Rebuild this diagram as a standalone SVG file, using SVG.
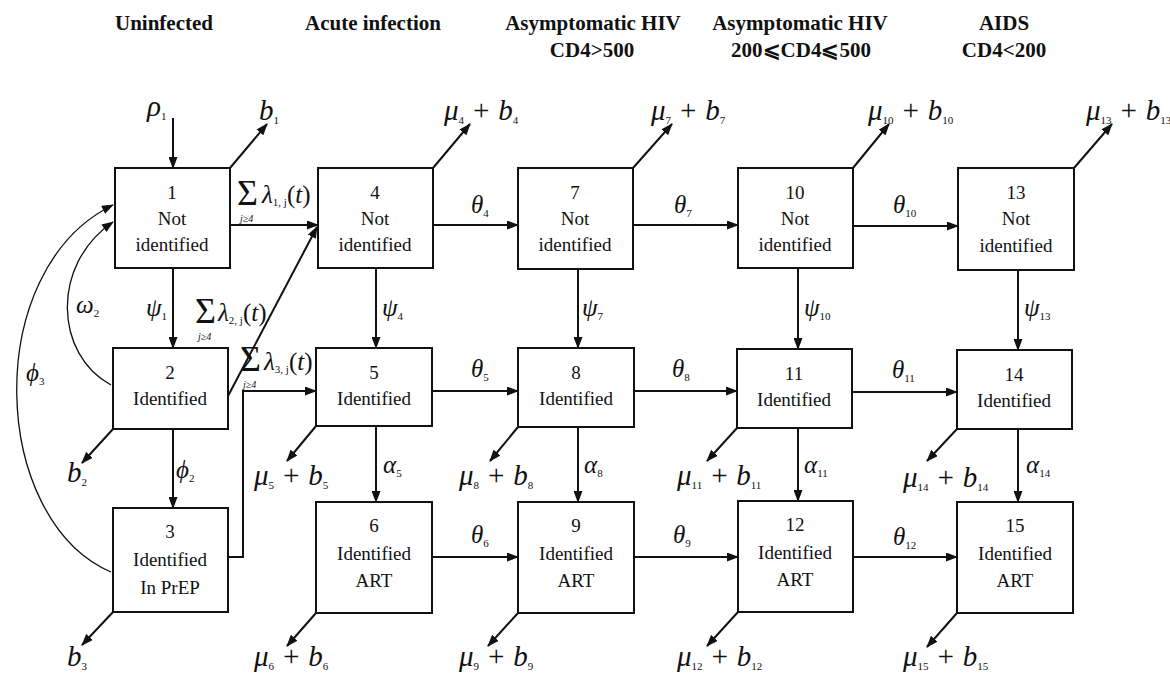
<svg xmlns="http://www.w3.org/2000/svg" width="1170" height="676" viewBox="0 0 1170 676">
<style>
.hdr{font-family:"Liberation Serif",serif;font-weight:bold;font-size:21px;text-anchor:middle;fill:#111}
.nt{font-family:"Liberation Serif",serif;font-size:19px;text-anchor:middle;fill:#111}
.m{font-family:"Liberation Serif",serif;font-style:italic;font-size:29px;fill:#111}
.g{font-family:"Liberation Serif",serif;font-style:italic;font-size:25px;fill:#111}
.s{font-style:normal;font-size:11px}
.sig{font-family:"Liberation Serif",serif;font-size:36px;fill:#111}
.j{font-family:"Liberation Serif",serif;font-style:italic;font-size:10px;fill:#111}
.box{fill:#fff;stroke:#111;stroke-width:2}
.a{fill:none;stroke:#111;stroke-width:2;marker-end:url(#ah)}
.c{fill:none;stroke:#111;stroke-width:1.3;marker-end:url(#ah)}
</style>
<defs>
<marker id="ah" viewBox="0 0 12 9" refX="11" refY="4.5" markerWidth="12" markerHeight="9" markerUnits="userSpaceOnUse" orient="auto"><path d="M0,0 L12,4.5 L0,9 Z" fill="#111"/></marker>
</defs>
<rect width="1170" height="676" fill="#fff"/>

<g id="headers">
<text class="hdr" x="164" y="30">Uninfected</text>
<text class="hdr" x="373" y="30">Acute infection</text>
<text class="hdr" x="593" y="30">Asymptomatic HIV</text>
<text class="hdr" x="592" y="57">CD4&gt;500</text>
<text class="hdr" x="800" y="30">Asymptomatic HIV</text>
<text class="hdr" x="801" y="57">200⩽CD4⩽500</text>
<text class="hdr" x="1004" y="30">AIDS</text>
<text class="hdr" x="1004" y="57">CD4&lt;200</text>
</g>

<g id="connectors">
<line class="a" x1="173" y1="118" x2="173" y2="168"/>
<line class="a" x1="230" y1="168" x2="267" y2="124"/>
<line class="a" x1="433" y1="168" x2="470" y2="124"/>
<line class="a" x1="633" y1="168" x2="672" y2="124"/>
<line class="a" x1="853" y1="168" x2="889" y2="124"/>
<line class="a" x1="1074" y1="168" x2="1112" y2="124"/>
<line class="a" x1="230" y1="225" x2="318" y2="225"/>
<line class="a" x1="433" y1="225" x2="518" y2="225"/>
<line class="a" x1="633" y1="225" x2="738" y2="225"/>
<line class="a" x1="853" y1="226" x2="958" y2="226"/>
<line class="a" x1="432" y1="391" x2="518" y2="391"/>
<line class="a" x1="634" y1="391" x2="737" y2="391"/>
<line class="a" x1="852" y1="392" x2="957" y2="392"/>
<line class="a" x1="432" y1="557" x2="518" y2="557"/>
<line class="a" x1="634" y1="557" x2="738" y2="557"/>
<line class="a" x1="853" y1="557" x2="957" y2="557"/>
<line class="a" x1="173" y1="268" x2="173" y2="348"/>
<line class="a" x1="173" y1="429" x2="173" y2="508"/>
<line class="a" x1="376" y1="268" x2="376" y2="348"/>
<line class="a" x1="376" y1="426" x2="376" y2="502"/>
<line class="a" x1="578" y1="269" x2="578" y2="348"/>
<line class="a" x1="578" y1="427" x2="578" y2="502"/>
<line class="a" x1="798" y1="268" x2="798" y2="349"/>
<line class="a" x1="798" y1="428" x2="798" y2="501"/>
<line class="a" x1="1018" y1="270" x2="1018" y2="350"/>
<line class="a" x1="1018" y1="429" x2="1018" y2="502"/>
<line class="a" x1="113" y1="429" x2="82" y2="463"/>
<line class="a" x1="113" y1="612" x2="82" y2="645"/>
<line class="a" x1="316" y1="426" x2="287" y2="461"/>
<line class="a" x1="316" y1="613" x2="287" y2="646"/>
<line class="a" x1="518" y1="427" x2="490" y2="461"/>
<line class="a" x1="518" y1="613" x2="488" y2="646"/>
<line class="a" x1="737" y1="428" x2="707" y2="461"/>
<line class="a" x1="738" y1="612" x2="707" y2="646"/>
<line class="a" x1="957" y1="429" x2="927" y2="461"/>
<line class="a" x1="957" y1="613" x2="927" y2="647"/>
<line class="a" x1="228" y1="396" x2="317" y2="227"/>
<path class="a" d="M228,557 H243 V391 H316"/>
<path class="c" d="M111,385 C55,355 50,265 113,222"/>
<path class="c" d="M111,572 C-10,520 -20,270 113,205"/>
</g>

<g id="n1"><rect class="box" x="115" y="168" width="115" height="100"/><text class="nt" x="172" y="199">1</text><text class="nt" x="172" y="225">Not</text><text class="nt" x="172" y="251">identified</text></g>
<g id="n4"><rect class="box" x="318" y="168" width="115" height="100"/><text class="nt" x="375" y="199">4</text><text class="nt" x="375" y="225">Not</text><text class="nt" x="375" y="251">identified</text></g>
<g id="n7"><rect class="box" x="518" y="168" width="115" height="101"/><text class="nt" x="575" y="199">7</text><text class="nt" x="575" y="225">Not</text><text class="nt" x="575" y="251">identified</text></g>
<g id="n10"><rect class="box" x="738" y="168" width="115" height="100"/><text class="nt" x="795" y="199">10</text><text class="nt" x="795" y="225">Not</text><text class="nt" x="795" y="251">identified</text></g>
<g id="n13"><rect class="box" x="958" y="168" width="116" height="102"/><text class="nt" x="1016" y="199">13</text><text class="nt" x="1016" y="225">Not</text><text class="nt" x="1016" y="252">identified</text></g>

<g id="n2"><rect class="box" x="113" y="348" width="115" height="81"/><text class="nt" x="170" y="379">2</text><text class="nt" x="170" y="405">Identified</text></g>
<g id="n5"><rect class="box" x="316" y="348" width="116" height="78"/><text class="nt" x="374" y="379">5</text><text class="nt" x="374" y="405">Identified</text></g>
<g id="n8"><rect class="box" x="518" y="348" width="116" height="79"/><text class="nt" x="576" y="379">8</text><text class="nt" x="576" y="405">Identified</text></g>
<g id="n11"><rect class="box" x="737" y="349" width="115" height="79"/><text class="nt" x="794" y="380">11</text><text class="nt" x="794" y="406">Identified</text></g>
<g id="n14"><rect class="box" x="957" y="350" width="115" height="79"/><text class="nt" x="1014" y="381">14</text><text class="nt" x="1014" y="407">Identified</text></g>

<g id="n3"><rect class="box" x="113" y="508" width="115" height="104"/><text class="nt" x="170" y="538">3</text><text class="nt" x="170" y="566">Identified</text><text class="nt" x="170" y="594">In PrEP</text></g>
<g id="n6"><rect class="box" x="316" y="502" width="116" height="111"/><text class="nt" x="374" y="532">6</text><text class="nt" x="374" y="560">Identified</text><text class="nt" x="374" y="587">ART</text></g>
<g id="n9"><rect class="box" x="518" y="502" width="116" height="111"/><text class="nt" x="576" y="532">9</text><text class="nt" x="576" y="560">Identified</text><text class="nt" x="576" y="587">ART</text></g>
<g id="n12"><rect class="box" x="738" y="501" width="115" height="111"/><text class="nt" x="795" y="531">12</text><text class="nt" x="795" y="559">Identified</text><text class="nt" x="795" y="586">ART</text></g>
<g id="n15"><rect class="box" x="957" y="502" width="116" height="111"/><text class="nt" x="1015" y="532">15</text><text class="nt" x="1015" y="560">Identified</text><text class="nt" x="1015" y="587">ART</text></g>

<g id="labels">
<text class="m" x="147" y="116">ρ<tspan class="s" dy="4">1</tspan></text>
<text class="m" x="259" y="120">b<tspan class="s" dy="4">1</tspan></text>
<text class="m" x="444" y="120">μ<tspan class="s" dy="4">4</tspan><tspan dy="-4"> + b</tspan><tspan class="s" dy="4">4</tspan></text>
<text class="m" x="651" y="120">μ<tspan class="s" dy="4">7</tspan><tspan dy="-4"> + b</tspan><tspan class="s" dy="4">7</tspan></text>
<text class="m" x="868" y="120">μ<tspan class="s" dy="4">10</tspan><tspan dy="-4"> + b</tspan><tspan class="s" dy="4">10</tspan></text>
<text class="m" x="1086" y="120">μ<tspan class="s" dy="4">13</tspan><tspan dy="-4"> + b</tspan><tspan class="s" dy="4">13</tspan></text>

<text class="m" x="67" y="482">b<tspan class="s" dy="4">2</tspan></text>
<text class="m" x="254" y="485">μ<tspan class="s" dy="4">5</tspan><tspan dy="-4"> + b</tspan><tspan class="s" dy="4">5</tspan></text>
<text class="m" x="459" y="485">μ<tspan class="s" dy="4">8</tspan><tspan dy="-4"> + b</tspan><tspan class="s" dy="4">8</tspan></text>
<text class="m" x="677" y="485">μ<tspan class="s" dy="4">11</tspan><tspan dy="-4"> + b</tspan><tspan class="s" dy="4">11</tspan></text>
<text class="m" x="903" y="487">μ<tspan class="s" dy="4">14</tspan><tspan dy="-4"> + b</tspan><tspan class="s" dy="4">14</tspan></text>

<text class="m" x="67" y="666">b<tspan class="s" dy="4">3</tspan></text>
<text class="m" x="254" y="666">μ<tspan class="s" dy="4">6</tspan><tspan dy="-4"> + b</tspan><tspan class="s" dy="4">6</tspan></text>
<text class="m" x="459" y="666">μ<tspan class="s" dy="4">9</tspan><tspan dy="-4"> + b</tspan><tspan class="s" dy="4">9</tspan></text>
<text class="m" x="677" y="666">μ<tspan class="s" dy="4">12</tspan><tspan dy="-4"> + b</tspan><tspan class="s" dy="4">12</tspan></text>
<text class="m" x="903" y="666">μ<tspan class="s" dy="4">15</tspan><tspan dy="-4"> + b</tspan><tspan class="s" dy="4">15</tspan></text>

<text class="g" x="471" y="213">θ<tspan class="s" dy="4">4</tspan></text>
<text class="g" x="674" y="213">θ<tspan class="s" dy="4">7</tspan></text>
<text class="g" x="893" y="213">θ<tspan class="s" dy="4">10</tspan></text>
<text class="g" x="471" y="377">θ<tspan class="s" dy="4">5</tspan></text>
<text class="g" x="672" y="377">θ<tspan class="s" dy="4">8</tspan></text>
<text class="g" x="892" y="378">θ<tspan class="s" dy="4">11</tspan></text>
<text class="g" x="471" y="543">θ<tspan class="s" dy="4">6</tspan></text>
<text class="g" x="673" y="543">θ<tspan class="s" dy="4">9</tspan></text>
<text class="g" x="893" y="545">θ<tspan class="s" dy="4">12</tspan></text>
<text class="g" x="146" y="316">ψ<tspan class="s" dy="4">1</tspan></text>
<text class="g" x="382" y="316">ψ<tspan class="s" dy="4">4</tspan></text>
<text class="g" x="582" y="316">ψ<tspan class="s" dy="4">7</tspan></text>
<text class="g" x="804" y="316">ψ<tspan class="s" dy="4">10</tspan></text>
<text class="g" x="1024" y="316">ψ<tspan class="s" dy="4">13</tspan></text>
<text class="g" x="383" y="473">α<tspan class="s" dy="4">5</tspan></text>
<text class="g" x="584" y="473">α<tspan class="s" dy="4">8</tspan></text>
<text class="g" x="804" y="473">α<tspan class="s" dy="4">11</tspan></text>
<text class="g" x="1026" y="473">α<tspan class="s" dy="4">14</tspan></text>
<text class="g" x="176" y="478">ϕ<tspan class="s" dy="4">2</tspan></text>
<text class="g" x="76" y="313">ω<tspan class="s" dy="4">2</tspan></text>
<text class="g" x="26" y="381">ϕ<tspan class="s" dy="4">3</tspan></text>

<text class="sig" x="237" y="205">Σ</text>
<text class="g" x="262" y="203">λ<tspan class="s" dy="3">1, j</tspan><tspan dy="-3" font-style="normal">(</tspan>t<tspan font-style="normal">)</tspan></text>
<text class="j" x="240" y="222">j≥4</text>
<text class="sig" x="195" y="323">Σ</text>
<text class="g" x="218" y="321">λ<tspan class="s" dy="3">2, j</tspan><tspan dy="-3" font-style="normal">(</tspan>t<tspan font-style="normal">)</tspan></text>
<text class="j" x="198" y="340">j≥4</text>
<text class="sig" x="240" y="371">Σ</text>
<text class="g" x="264" y="370">λ<tspan class="s" dy="3">3, j</tspan><tspan dy="-3" font-style="normal">(</tspan>t<tspan font-style="normal">)</tspan></text>
<text class="j" x="243" y="388">j≥4</text>
</g>
</svg>
